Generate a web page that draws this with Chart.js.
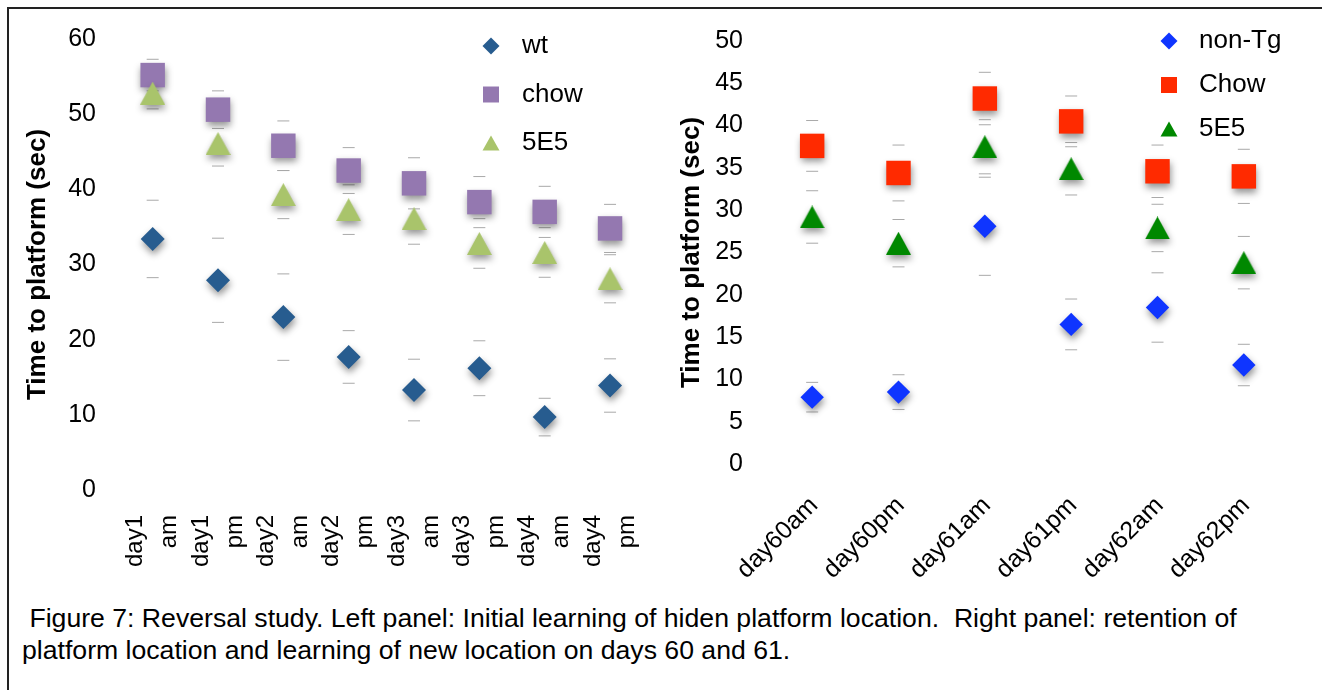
<!DOCTYPE html>
<html>
<head>
<meta charset="utf-8">
<title>Figure 7: Reversal study</title>
<script src="https://cdn.jsdelivr.net/npm/chart.js@4.4.1/dist/chart.umd.min.js"></script>
<style>
  html, body { margin: 0; padding: 0; background: #fff; }
  #figure { position: relative; width: 1322px; height: 690px; overflow: hidden; }
  #figure::before {
    content: ''; position: absolute; left: 7px; top: 7px; right: -10px; bottom: -10px;
    border-top: 2px solid #222; border-left: 2px solid #222;
  }
  #leftPanel { position: absolute; left: 0; top: 0; }
  #rightPanel { position: absolute; left: 660px; top: 0; }
  #caption {
    position: absolute; left: 22px; top: 602px; margin: 0;
    font: 25px "Liberation Sans", Arial, sans-serif; line-height: 32px;
    white-space: pre; color: #000;
    transform: scaleX(1.065); transform-origin: 0 0;
  }
</style>
</head>
<body>
<div id="figure">
  <canvas id="leftPanel" width="660" height="600"></canvas>
  <canvas id="rightPanel" width="662" height="600"></canvas>
  <p id="caption"> Figure 7: Reversal study. Left panel: Initial learning of hiden platform location.  Right panel: retention of
platform location and learning of new location on days 60 and 61.</p>
</div>
<script>
// ---- Left panel: initial learning (mean time, ± error) ----
const leftSessions = [['day1', 'am'], ['day1', 'pm'], ['day2', 'am'], ['day2', 'pm'],
                      ['day3', 'am'], ['day3', 'pm'], ['day4', 'am'], ['day4', 'pm']];
const wtTime    = [33.4, 27.9, 23.0, 17.7, 13.3, 16.2, 9.7, 13.9];
const wtErr     = [5.15, 5.6, 5.75, 3.5, 4.1, 3.65, 2.5, 3.55];
const chowTime  = [55.2, 50.6, 45.8, 42.5, 40.8, 38.3, 37.0, 34.8];
const chowErr   = [2.1, 2.5, 3.3, 3.05, 3.4, 3.4, 3.4, 3.2];
const e5Time    = [52.8, 46.1, 39.3, 37.3, 36.1, 32.8, 31.6, 28.1];
const e5Err     = [2.1, 3.0, 3.2, 3.3, 3.4, 3.3, 3.3, 3.2];
const leftTicks = [0, 10, 20, 30, 40, 50, 60];

// ---- Right panel: retention and reversal ----
const rightSessions = ['day60am', 'day60pm', 'day61am', 'day61pm', 'day62am', 'day62pm'];
const nonTgTime   = [7.9, 8.5, 28.1, 16.5, 18.5, 11.7];
const nonTgErr    = [1.75, 2.05, 5.8, 3.0, 4.1, 2.45];
const chowRTime   = [37.6, 34.4, 43.2, 40.5, 34.6, 34.0];
const chowRErr    = [3.0, 3.3, 3.1, 3.0, 3.1, 3.2];
const e5RTime     = [29.2, 26.1, 37.5, 34.9, 27.9, 23.8];
const e5RErr      = [3.1, 2.8, 3.2, 3.1, 2.8, 3.1];
const rightTicks  = [0, 5, 10, 15, 20, 25, 30, 35, 40, 45, 50];

const FAMILY = '"Liberation Sans", Arial, Helvetica, sans-serif';
Chart.defaults.font.family = FAMILY;
Chart.defaults.color = '#000';

const COLORS = {
  wt: '#275c8f', chow: '#9478b0', e5: '#a9c46b',
  nonTg: '#0f35ff', chowR: '#ff2a00', e5R: '#008800'
};

// Upright triangle sprite, centred on its bounding box
function triangleSprite(w, h, color) {
  const c = document.createElement('canvas');
  c.width = w; c.height = h;
  const g = c.getContext('2d');
  g.fillStyle = color;
  g.beginPath();
  g.moveTo(w / 2, 0);
  g.lineTo(w, h);
  g.lineTo(0, h);
  g.closePath();
  g.fill();
  return c;
}

function markers(label, data, color, style, radius, order, legendShape) {
  return {
    label, data, order, legendShape, shadow: true, clip: false,
    showLine: false,
    pointStyle: style,
    pointRadius: radius, pointHoverRadius: radius,
    pointBackgroundColor: color, pointBorderColor: color, pointBorderWidth: 0,
    backgroundColor: color, borderColor: color
  };
}

// Error-bar caps: short grey dashes above and below each mean
function caps(means, errs) {
  const line = (data) => ({
    data, order: 10, clip: false, showLine: false,
    pointStyle: 'line', pointRadius: 6, pointHoverRadius: 6,
    pointBorderColor: '#a9a9a9', pointBorderWidth: 1,
    borderColor: '#a9a9a9', backgroundColor: '#a9a9a9'
  });
  return [
    line(means.map((m, i) => m + errs[i])),
    line(means.map((m, i) => m - errs[i]))
  ];
}

const markerShadow = {
  id: 'markerShadow',
  beforeDatasetDraw(chart, args) {
    if (!chart.data.datasets[args.index].shadow) return;
    const ctx = chart.ctx;
    ctx.save();
    ctx.shadowColor = 'rgba(0,0,0,0.42)';
    ctx.shadowBlur = 7;
    ctx.shadowOffsetX = 1;
    ctx.shadowOffsetY = 4;
  },
  afterDatasetDraw(chart, args) {
    if (!chart.data.datasets[args.index].shadow) return;
    chart.ctx.restore();
  }
};

function legendMarker(ctx, shape, x, y, color) {
  ctx.fillStyle = color;
  ctx.beginPath();
  if (shape === 'diamond') {
    const r = 8.5;
    ctx.moveTo(x, y - r); ctx.lineTo(x + r, y); ctx.lineTo(x, y + r); ctx.lineTo(x - r, y);
  } else if (shape === 'square') {
    ctx.rect(x - 8, y - 8, 16, 16);
  } else {
    ctx.moveTo(x, y - 7.5); ctx.lineTo(x + 8.5, y + 7.5); ctx.lineTo(x - 8.5, y + 7.5);
  }
  ctx.closePath();
  ctx.fill();
}

const panelLegend = {
  id: 'panelLegend',
  afterDraw(chart, args, opts) {
    const ctx = chart.ctx;
    ctx.save();
    ctx.font = opts.size + 'px ' + FAMILY;
    ctx.textBaseline = 'middle';
    ctx.textAlign = 'left';
    let row = 0;
    chart.data.datasets.forEach((ds) => {
      if (!ds.legendShape) return;
      const y = opts.top + row * opts.step;
      legendMarker(ctx, ds.legendShape, opts.markerX, y, ds.pointBackgroundColor);
      ctx.fillStyle = '#000';
      ctx.fillText(ds.label, opts.textX, y);
      row++;
    });
    ctx.restore();
  }
};

function panel(canvasId, cfg) {
  return new Chart(document.getElementById(canvasId), {
    type: 'line',
    data: { labels: cfg.labels, datasets: cfg.datasets },
    plugins: [markerShadow, panelLegend],
    options: {
      responsive: false,
      animation: false,
      events: [],
      layout: { padding: cfg.padding },
      plugins: {
        legend: { display: false },
        tooltip: { enabled: false },
        panelLegend: cfg.legend
      },
      scales: {
        x: {
          type: 'category',
          offset: true,
          grid: { display: false, drawTicks: false },
          border: { display: false },
          ticks: Object.assign({ color: '#000', autoSkip: false }, cfg.xTicks),
          afterFit(s) { s.height = cfg.xHeight; s.paddingLeft = 0; s.paddingRight = 0; }
        },
        y: {
          min: cfg.ticks[0],
          max: cfg.ticks[cfg.ticks.length - 1],
          grid: { display: false, drawTicks: false },
          border: { display: false },
          afterBuildTicks(s) { s.ticks = cfg.ticks.map((v) => ({ value: v })); },
          ticks: { color: '#000', font: { size: 25 }, padding: cfg.yPad },
          title: {
            display: true, text: 'Time to platform (sec)', color: '#000',
            font: { size: 26, weight: 'bold' }, padding: { top: cfg.titlePad, bottom: 0 }
          },
          afterFit(s) { s.width = cfg.yWidth; }
        }
      }
    }
  });
}

panel('leftPanel', {
  labels: leftSessions,
  ticks: leftTicks,
  padding: { left: 10, top: 37, right: 15, bottom: 0 },
  xHeight: 110, yWidth: 110, yPad: 24, titlePad: 12,
  xTicks: { font: { size: 24, lineHeight: 1.42 }, minRotation: 90, maxRotation: 90, padding: 25, labelOffset: -17 },
  legend: { markerX: 491, textX: 522, top: 46, step: 48.5, size: 26 },
  datasets: [
    markers('wt', wtTime, COLORS.wt, 'rectRot', 12, 2, 'diamond'),
    markers('chow', chowTime, COLORS.chow, 'rect', 17.3, 1, 'square'),
    markers('5E5', e5Time, COLORS.e5, triangleSprite(25, 23, COLORS.e5), 12, 0, 'triangle'),
    ...caps(wtTime, wtErr), ...caps(chowTime, chowErr), ...caps(e5Time, e5Err)
  ]
});

panel('rightPanel', {
  labels: rightSessions,
  ticks: rightTicks,
  padding: { left: 10, top: 32, right: 35, bottom: 0 },
  xHeight: 136, yWidth: 99, yPad: 26, titlePad: 6,
  xTicks: { font: { size: 25 }, minRotation: 45, maxRotation: 45, padding: 27, labelOffset: 2 },
  legend: { markerX: 509, textX: 539, top: 41, step: 44, size: 26 },
  datasets: [
    markers('non-Tg', nonTgTime, COLORS.nonTg, 'rectRot', 11.7, 2, 'diamond'),
    markers('Chow', chowRTime, COLORS.chowR, 'rect', 17.3, 1, 'square'),
    markers('5E5', e5RTime, COLORS.e5R, triangleSprite(25, 23, COLORS.e5R), 12, 0, 'triangle'),
    ...caps(nonTgTime, nonTgErr), ...caps(chowRTime, chowRErr), ...caps(e5RTime, e5RErr)
  ]
});
</script>
</body>
</html>
